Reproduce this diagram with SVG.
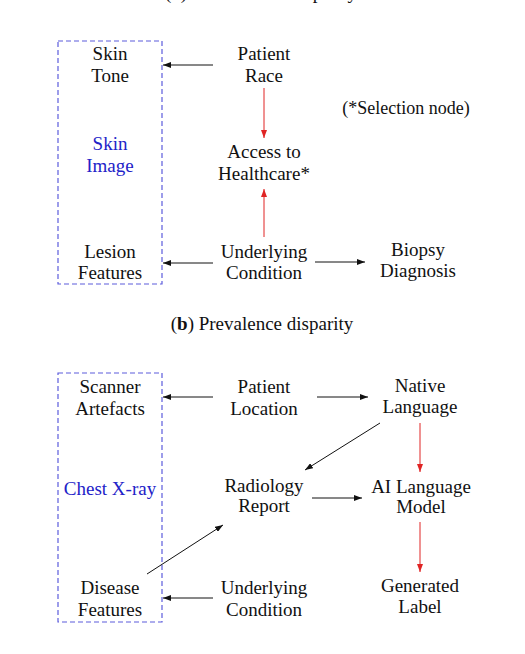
<svg xmlns="http://www.w3.org/2000/svg" width="525" height="654" viewBox="0 0 525 654">
<style>
text{font-family:"Liberation Serif","DejaVu Serif",serif;font-size:19px;fill:#111;text-anchor:middle}
.blue{fill:#2222c8}
.box{fill:none;stroke:#5c5cdc;stroke-width:1.2;stroke-dasharray:5,3}
.e{stroke:#111;stroke-width:1;fill:none;marker-end:url(#ab)}
.r{stroke:#e02424;stroke-width:1;fill:none;marker-end:url(#ar)}
.note{font-size:18px}
</style>
<defs>
<marker id="ab" markerWidth="8" markerHeight="6" refX="8" refY="3" orient="auto" markerUnits="userSpaceOnUse"><path d="M0,0 L8,3 L0,6 z" fill="#111"/></marker>
<marker id="ar" markerWidth="8" markerHeight="6" refX="8" refY="3" orient="auto" markerUnits="userSpaceOnUse"><path d="M0,0 L8,3 L0,6 z" fill="#e02424"/></marker>
</defs>
<rect fill="#fff" width="525" height="654"/>
<text id="caption-a" x="261" y="-1">(<tspan font-weight="bold">a</tspan>) Presentation disparity</text>

<g id="panel-a">
<g id="a-skin-image"><rect class="box" x="58" y="41" width="104" height="243"/><text class="blue" x="110" y="150">Skin</text><text class="blue" x="110" y="172">Image</text></g>
<g id="a-skin-tone"><text x="110" y="60">Skin</text><text x="110" y="82">Tone</text></g>
<g id="a-patient-race"><text x="264" y="60">Patient</text><text x="264" y="82">Race</text></g>
<g id="a-access"><text x="264" y="158">Access to</text><text x="264" y="180">Healthcare*</text></g>
<g id="a-lesion"><text x="110" y="258">Lesion</text><text x="110" y="279">Features</text></g>
<g id="a-underlying"><text x="264" y="258">Underlying</text><text x="264" y="279">Condition</text></g>
<g id="a-biopsy"><text x="418" y="256">Biopsy</text><text x="418" y="277">Diagnosis</text></g>
<g id="a-note"><text class="note" x="406" y="114">(*Selection node)</text></g>
<g id="a-edges">
<line class="e" x1="213" y1="65" x2="163" y2="65"/>
<line class="r" x1="264" y1="88" x2="264" y2="138"/>
<line class="r" x1="264" y1="237" x2="264" y2="189"/>
<line class="e" x1="213" y1="263" x2="163" y2="263"/>
<line class="e" x1="315" y1="262" x2="365" y2="262"/>
</g>
</g>

<text id="caption-b" x="262" y="330">(<tspan font-weight="bold">b</tspan>) Prevalence disparity</text>

<g id="panel-b">
<g id="b-chest-xray"><rect class="box" x="58" y="373" width="104" height="249"/><text class="blue" x="110" y="495">Chest X-ray</text></g>
<g id="b-scanner"><text x="110" y="393">Scanner</text><text x="110" y="415">Artefacts</text></g>
<g id="b-location"><text x="264" y="393">Patient</text><text x="264" y="415">Location</text></g>
<g id="b-native"><text x="420" y="392">Native</text><text x="420" y="413">Language</text></g>
<g id="b-radiology"><text x="264" y="492">Radiology</text><text x="264" y="512">Report</text></g>
<g id="b-ai"><text x="421" y="493">AI Language</text><text x="421" y="513">Model</text></g>
<g id="b-generated"><text x="420" y="592">Generated</text><text x="420" y="613">Label</text></g>
<g id="b-disease"><text x="110" y="594">Disease</text><text x="110" y="616">Features</text></g>
<g id="b-underlying"><text x="264" y="594">Underlying</text><text x="264" y="616">Condition</text></g>
<g id="b-edges">
<line class="e" x1="213" y1="397" x2="163" y2="397"/>
<line class="e" x1="317" y1="397" x2="368" y2="397"/>
<line class="r" x1="420" y1="423" x2="420" y2="472"/>
<line class="e" x1="380" y1="423" x2="305" y2="470"/>
<line class="e" x1="312" y1="498" x2="362" y2="498"/>
<line class="r" x1="420" y1="522" x2="420" y2="572"/>
<line class="e" x1="147" y1="574" x2="223" y2="525"/>
<line class="e" x1="213" y1="598" x2="163" y2="598"/>
</g>
</g>
</svg>
